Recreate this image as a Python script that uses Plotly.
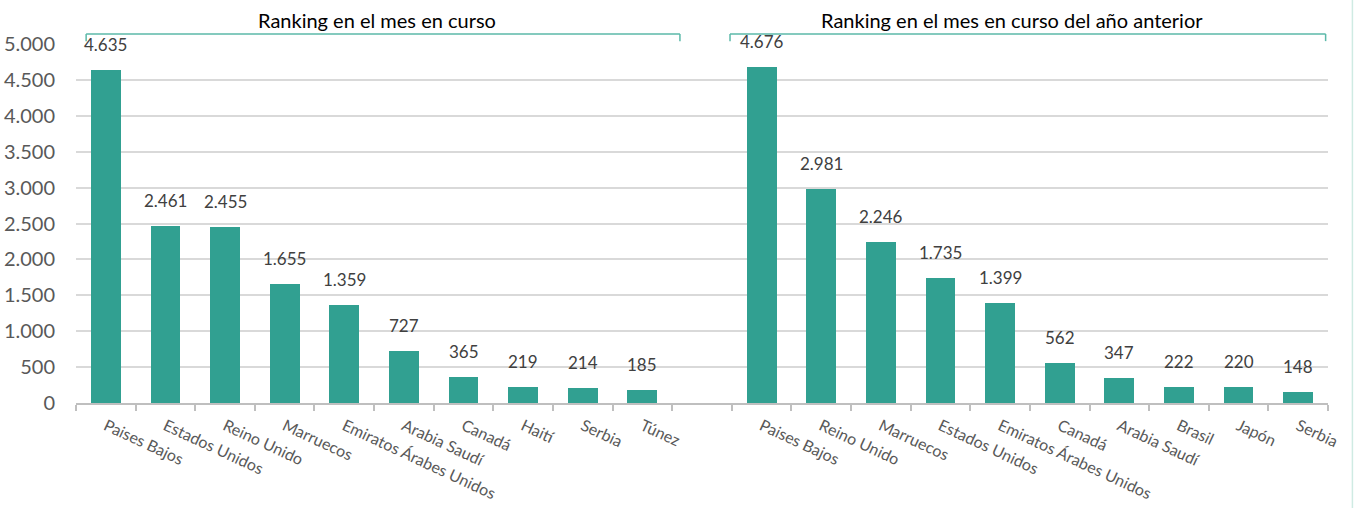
import plotly.graph_objects as go

paises_actual = ["Paises Bajos", "Estados Unidos", "Reino Unido", "Marruecos",
                 "Emiratos Árabes Unidos", "Arabia Saudí", "Canadá", "Haití", "Serbia", "Túnez"]
valores_actual = [4635, 2461, 2455, 1655, 1359, 727, 365, 219, 214, 185]

paises_anterior = ["Paises Bajos", "Reino Unido", "Marruecos", "Estados Unidos",
                   "Emiratos Árabes Unidos", "Canadá", "Arabia Saudí", "Brasil", "Japón", "Serbia"]
valores_anterior = [4676, 2981, 2246, 1735, 1399, 562, 347, 222, 220, 148]

titulo_actual = "Ranking en el mes en curso"
titulo_anterior = "Ranking en el mes en curso del año anterior"

y_ticks = [0, 500, 1000, 1500, 2000, 2500, 3000, 3500, 4000, 4500, 5000]

def fmt(v):
    return f"{v:,}".replace(",", ".")

n = len(paises_actual)
x_actual = list(range(n))
x_anterior = [n + 1 + i for i in range(len(paises_anterior))]

BAR = "#31A091"
FONT = "Lato, 'Open Sans', sans-serif"

fig = go.Figure()
fig.add_trace(go.Bar(x=x_actual, y=valores_actual, width=0.5, marker_color=BAR,
                     marker_line_width=0, hoverinfo="skip"))
fig.add_trace(go.Bar(x=x_anterior, y=valores_anterior, width=0.5, marker_color=BAR,
                     marker_line_width=0, hoverinfo="skip"))

for xs, vs in [(x_actual, valores_actual), (x_anterior, valores_anterior)]:
    for x, v in zip(xs, vs):
        fig.add_annotation(x=x, y=v, text=fmt(v), showarrow=False, yanchor="bottom",
                           yshift=13, font=dict(size=17, color="#404040", family=FONT))

# brackets
br_color = "#5BB9A9"
for x0, x1 in [(-0.33, 9.63), (10.47, 20.46)]:
    fig.add_shape(type="line", xref="x", yref="paper", x0=x0, x1=x1, y0=1.028, y1=1.028,
                  line=dict(color=br_color, width=1.5))
    for xx in (x0, x1):
        fig.add_shape(type="line", xref="x", yref="paper", x0=xx, x1=xx, y0=1.028, y1=1.008,
                      line=dict(color=br_color, width=1.5))

fig.add_annotation(x=4.55, y=1.067, xref="x", yref="paper", text=titulo_actual, showarrow=False,
                   yanchor="middle", font=dict(size=20, color="#000000", family=FONT))
fig.add_annotation(x=15.2, y=1.067, xref="x", yref="paper", text=titulo_anterior, showarrow=False,
                   yanchor="middle", font=dict(size=20, color="#000000", family=FONT))

# right border line
fig.add_shape(type="line", xref="paper", yref="paper", x0=1.0195, x1=1.0195, y0=-0.3, y1=1.2,
              line=dict(color="#CFEBE3", width=1.5))

fig.update_layout(
    width=1355, height=508,
    margin=dict(l=76, r=27, t=44, b=105, autoexpand=False),
    paper_bgcolor="white", plot_bgcolor="white",
    showlegend=False, bargap=0,
    font=dict(family=FONT, color="#595959"),
)
fig.update_xaxes(
    range=[-0.5, 20.5], tickmode="array", automargin=False,
    tickvals=x_actual + x_anterior, ticktext=paises_actual + paises_anterior,
    tickangle=25, ticks="", tickfont=dict(size=16, color="#595959", family=FONT),
    ticklabelstandoff=6,
    showline=True, linecolor="#BFBFBF", linewidth=1.5, showgrid=False, zeroline=False,
    minor=dict(ticks="outside", ticklen=6, tickcolor="#BFBFBF", tickwidth=1.5,
               tick0=-0.5, dtick=1, showgrid=False),
)
fig.update_yaxes(
    range=[0, 5000], tickmode="array", tickvals=y_ticks, ticktext=[fmt(v) for v in y_ticks],
    automargin=False,
    tickfont=dict(size=20, color="#595959", family=FONT), showgrid=True, gridcolor="#D9D9D9",
    gridwidth=1.5, zeroline=False, showline=False, ticks="", ticklabelstandoff=20,
)

fig.write_html("out.html", config={"displayModeBar": False},
               post_script="document.body.style.margin='0';document.body.style.overflow='hidden';")
